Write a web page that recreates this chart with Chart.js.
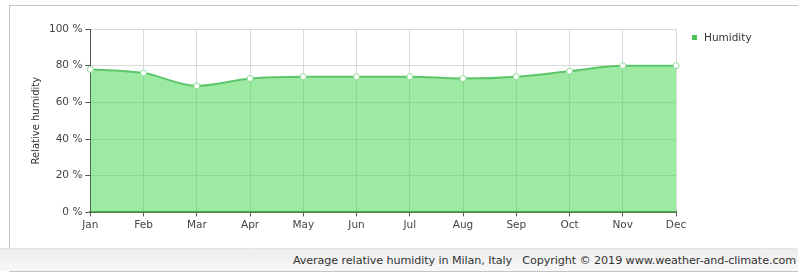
<!DOCTYPE html>
<html>
<head>
<meta charset="utf-8">
<script src="https://cdn.jsdelivr.net/npm/chart.js@4"></script>
<style>
  body { margin: 0; background: #fff; font-family: "DejaVu Sans", sans-serif; }
  #wrap { position: relative; width: 798px; height: 273px; overflow: hidden; }
  #frame { position: absolute; left: 9px; top: 5px; width: 800px; height: 265px; border: 1px solid #c4c4c4; }
  #footer { position: absolute; left: 0; top: 248px; width: 798px; height: 22px;
            background: linear-gradient(#ececec, #f8f8f8); border-top: 1px solid #e4e4e4; }
  #footer span { position: absolute; right: 2px; top: 5px; font-size: 11.2px; color: #333; white-space: nowrap; letter-spacing: -0.1px; }
  #chart { position: absolute; left: 0; top: 0; }
  #legend { position: absolute; left: 692px; top: 31px; font-size: 10.5px; color: #333; }
  #legend i { display: inline-block; width: 5px; height: 5px; background: #4cc45a; margin-right: 7px; vertical-align: 1px; }
</style>
</head>
<body>
<div id="wrap">
  <div id="frame"></div>
  <div id="footer"><span>Average relative humidity in Milan, Italy &nbsp; Copyright © 2019 www.weather-and-climate.com</span></div>
  <canvas id="chart" width="798" height="248"></canvas>
  <div id="legend"><i></i>Humidity</div>
</div>
<script>
const months = ['Jan','Feb','Mar','Apr','May','Jun','Jul','Aug','Sep','Oct','Nov','Dec'];
const humidity = [78, 76, 69, 73, 74, 74, 74, 73, 74, 77, 80, 80];
const seriesName = 'Humidity';
const yTicks = [0, 20, 40, 60, 80, 100];

const tickFont = { family: 'DejaVu Sans', size: 10.5 };

const ctx = document.getElementById('chart');
new Chart(ctx, {
  type: 'line',
  data: {
    labels: months,
    datasets: [{
      label: seriesName,
      data: humidity,
      fill: 'origin',
      backgroundColor: 'rgba(60,215,70,0.5)',
      borderColor: '#5ec66a',
      borderWidth: 2,
      pointRadius: 3,
      pointBackgroundColor: '#fff',
      pointBorderColor: '#8fdc98',
      pointBorderWidth: 1,
      cubicInterpolationMode: 'monotone'
    }]
  },
  options: {
    responsive: false,
    animation: false,
    layout: { padding: { left: 26, right: 122, top: 29, bottom: 13 } },
    plugins: { legend: { display: false }, tooltip: { enabled: false } },
    scales: {
      x: {
        offset: false,
        grid: { color: '#d8d8d8', tickLength: 4, tickColor: '#555' },
        border: { color: '#5a7a5a', width: 2 },
        ticks: { color: '#444', font: tickFont, padding: 3, maxRotation: 0 }
      },
      y: {
        min: 0, max: 100,
        afterBuildTicks: axis => { axis.ticks = yTicks.map(v => ({ value: v })); },
        grid: { color: '#d8d8d8', tickLength: 5, tickColor: '#555' },
        border: { color: '#555' },
        ticks: { color: '#444', font: tickFont, padding: 3,
                 callback: v => v + ' %' },
        title: { display: true, text: 'Relative humidity', color: '#333',
                 font: { family: 'DejaVu Sans', size: 10 }, padding: 4 }
      }
    }
  }
});
</script>
</body>
</html>
